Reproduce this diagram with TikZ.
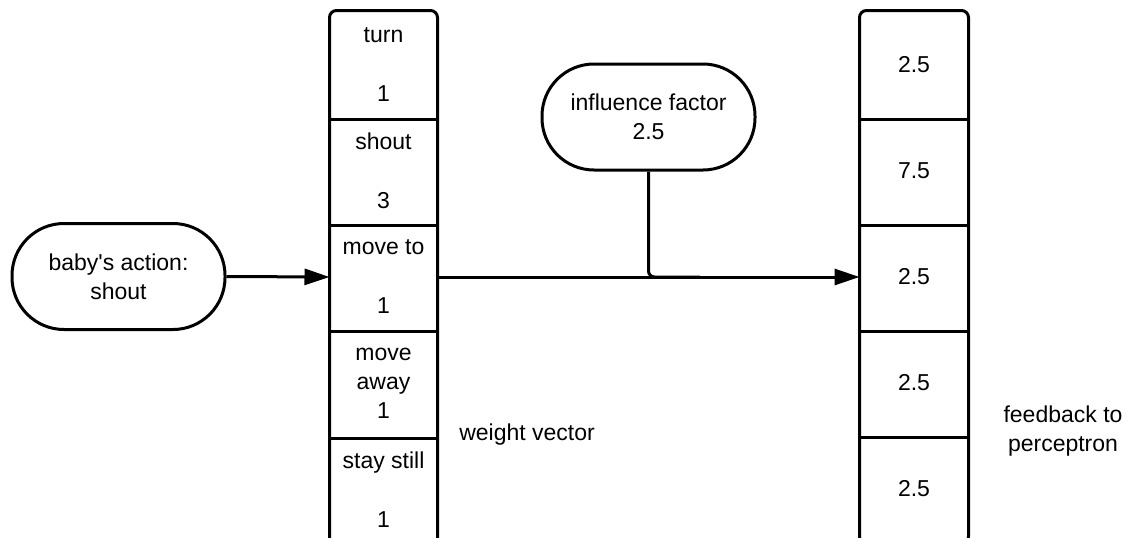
\documentclass[tikz,border=0pt]{standalone}
\usepackage{fontspec}
\setmainfont{Liberation Sans}
\usetikzlibrary{arrows.meta}
\begin{document}
\begin{tikzpicture}[x=1pt,y=-1pt,
  line width=3pt,
  font=\fontsize{23}{29}\selectfont,
  wcell/.style={minimum width=105pt,minimum height=106pt,inner sep=0pt,align=center},
  fcell/.style={minimum width=106pt,minimum height=106pt,inner sep=0pt,align=center},
  pill/.style={draw,rounded corners=52pt,minimum width=213pt,minimum height=106pt,align=center,inner sep=0pt},
  arr/.style={-{Triangle[length=25pt,width=16pt]}},
  lbl/.style={align=center,inner sep=0pt}]
\useasboundingbox (0,0) rectangle (1127,538);

% weight vector cells
\node[wcell] (w1) at (383.5,65)  {turn\\[30pt]1};
\node[wcell] (w2) at (383.5,171) {shout\\[30pt]3};
\node[wcell] (w3) at (383.5,277) {move to\\[30pt]1};
\node[wcell] (w4) at (383.5,383.5) {move\\away\\1};
\node[wcell] (w5) at (383.5,490) {stay still\\[30pt]1};
\draw[rounded corners=7pt] (w5.south west) -- (w1.north west) -- (w1.north east) -- (w5.south east);
\foreach \c in {w1,w2,w3,w4}
  \draw (\c.south west) -- (\c.south east);

% feedback cells
\node[fcell] (f1) at (914,65)  {2.5};
\node[fcell] (f2) at (914,171) {7.5};
\node[fcell] (f3) at (914,277) {2.5};
\node[fcell] (f4) at (914,383) {2.5};
\node[fcell] (f5) at (914,489) {2.5};
\draw[rounded corners=7pt] (f1.north west) rectangle (f5.south east);
\foreach \c in {f1,f2,f3,f4}
  \draw (\c.south west) -- (\c.south east);

% terminals
\node[pill] (baby) at (118.5,276.5) {baby\textquotesingle s action:\\shout};
\node[pill] (infl) at (648.5,117) {influence factor\\2.5};

% labels
\node[lbl] (wlab) at (527,435) {weight vector};
\node[lbl] (flab) at (1063,431) {feedback to\\perceptron};

% connectors
\draw[arr] (baby.east) -- (w3.west);
\draw[arr] (w3.east) -- (f3.west);
\coordinate (jn) at (700,277);
\draw[rounded corners=6pt] (infl.south) |- (jn);
\end{tikzpicture}
\end{document}
